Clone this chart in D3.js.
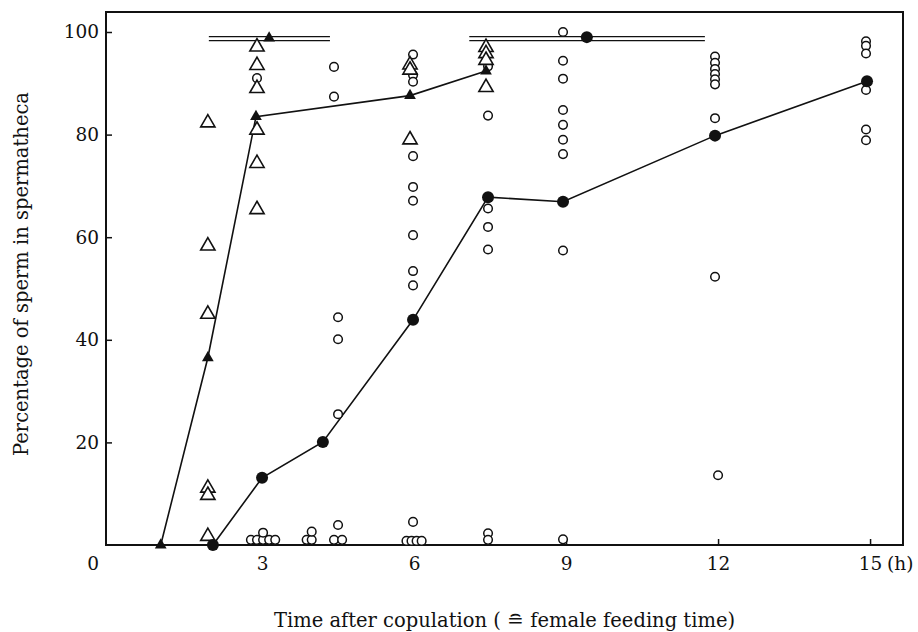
<!DOCTYPE html>
<html>
<head>
<meta charset="utf-8">
<script src="https://cdn.jsdelivr.net/npm/d3@7"></script>
<style>
  body { margin: 0; background: #fff; }
  text { font-family: "DejaVu Serif", "Liberation Serif", serif; fill: #111; }
</style>
</head>
<body>
<svg id="chart" width="918" height="632"></svg>
<script>
// ---- data (hours after copulation, % of sperm in spermatheca) ----
const xTicks = [0, 3, 6, 9, 12, 15];
const yTicks = [0, 20, 40, 60, 80, 100];

// filled triangles, joined by a line
const meanTriangles = [[1.0, 0], [1.93, 36.5], [2.88, 83.5], [5.92, 87.6], [7.42, 92.4]];
// filled circles, joined by a line
const meanCircles = [[2.03, 0], [3.0, 13.1], [4.2, 20.1], [5.98, 43.9], [7.46, 67.8], [8.94, 66.9], [11.94, 79.8], [14.94, 90.4]];
// separate filled markers on the double bars
const barTriangle = [[3.14, 98.8]];
const barCircle = [[9.41, 99.0]];
// double horizontal bars (start h, end h)
const bars = [[1.95, 4.34], [7.09, 11.74]];
const barLevel = 98.7;

// open triangles, individual values
const openTriangles = [
  { t: 1.93, v: [82.3, 58.3, 45.0, 11.1, 9.7, 1.7] },
  { t: 2.9, v: [97.1, 93.5, 89.0, 80.9, 74.4, 65.4] },
  { t: 5.92, v: [93.6, 92.6, 79.0] },
  { t: 7.42, v: [97.0, 95.8, 94.5, 89.2] }
];

// open circles, individual values
const openCircles = [
  { t: 2.9, v: [91.0] },
  { t: 2.78, v: [1.0] }, { t: 2.9, v: [1.0] }, { t: 3.02, v: [1.0, 2.4] }, { t: 3.14, v: [1.0] }, { t: 3.26, v: [1.0] },
  { t: 3.88, v: [1.0] }, { t: 3.98, v: [1.0, 2.6] },
  { t: 4.42, v: [93.2, 87.4, 1.0] }, { t: 4.5, v: [44.4, 40.1, 25.5, 3.9] }, { t: 4.58, v: [1.0] },
  { t: 5.98, v: [95.6, 91.6, 90.3, 75.8, 69.8, 67.1, 60.4, 53.4, 50.6, 4.5] },
  { t: 5.85, v: [0.8] }, { t: 5.95, v: [0.8] }, { t: 6.05, v: [0.8] }, { t: 6.15, v: [0.8] },
  { t: 7.46, v: [93.3, 83.7, 65.6, 62.0, 57.6, 2.3, 1.0] },
  { t: 8.94, v: [100.0, 94.4, 90.9, 84.8, 81.9, 79.0, 76.2, 57.4, 1.1] },
  { t: 11.94, v: [95.2, 94.0, 92.8, 91.8, 90.8, 89.8, 83.2, 52.3] },
  { t: 12.0, v: [13.6] },
  { t: 14.92, v: [98.2, 97.3, 95.8, 88.7, 81.0, 78.9] }
];

// ---- layout ----
const svg = d3.select("#chart");
const plotLeft = 106, plotRight = 903, plotTop = 12, plotBottom = 545;
const tickFont = "18.5px", titleFont = "19.5px";

const x = d3.scaleLinear().domain([-0.08, 15.65]).range([plotLeft, plotRight]);
const y = d3.scaleLinear().domain([0, 100]).range([plotBottom, 32]);

const g = svg.append("g");

// frame
g.append("rect")
  .attr("x", plotLeft).attr("y", plotTop)
  .attr("width", plotRight - plotLeft).attr("height", plotBottom - plotTop)
  .attr("fill", "none").attr("stroke", "#111").attr("stroke-width", 2);

// axes (inward ticks)
const xAxis = g.append("g")
  .attr("transform", `translate(0,${plotBottom})`)
  .call(d3.axisBottom(x).tickValues(xTicks.filter(d => d > 0)).tickSize(-6).tickPadding(12).tickFormat(d3.format("d")));
xAxis.select(".domain").remove();
xAxis.selectAll("line").attr("stroke", "#111").attr("stroke-width", 1.5);
xAxis.selectAll("text").style("font-size", tickFont).attr("fill", "#111");

g.append("text")
  .attr("x", x(15) + 17).attr("y", plotBottom + 12)
  .attr("dy", "0.71em")
  .style("font-size", tickFont)
  .text("(h)");

const yAxis = g.append("g")
  .attr("transform", `translate(${plotLeft},0)`)
  .call(d3.axisLeft(y).tickValues(yTicks.filter(d => d > 0)).tickSize(-6).tickPadding(7).tickFormat(d3.format("d")));
yAxis.select(".domain").remove();
yAxis.selectAll("line").attr("stroke", "#111").attr("stroke-width", 1.5);
yAxis.selectAll("text").style("font-size", tickFont).attr("fill", "#111");

// shared zero at the corner
g.append("text")
  .attr("x", plotLeft - 7).attr("y", plotBottom + 12)
  .attr("dy", "0.71em")
  .attr("text-anchor", "end")
  .style("font-size", tickFont)
  .text(xTicks[0]);

// axis titles
g.append("text")
  .attr("transform", `translate(28,274) rotate(-90)`)
  .attr("text-anchor", "middle")
  .style("font-size", titleFont)
  .text("Percentage of sperm in spermatheca");

g.append("text")
  .attr("x", (plotLeft + plotRight) / 2).attr("y", 627)
  .attr("text-anchor", "middle")
  .style("font-size", titleFont)
  .text("Time after copulation ( \u2258 female feeding time)");

// double bars
bars.forEach(b => {
  [-2, 2].forEach(off => {
    g.append("line")
      .attr("x1", x(b[0])).attr("x2", x(b[1]))
      .attr("y1", y(barLevel) + off).attr("y2", y(barLevel) + off)
      .attr("stroke", "#111").attr("stroke-width", 1.3);
  });
});

// mean lines
const line = d3.line().x(d => x(d[0])).y(d => y(d[1]));
g.append("path").datum(meanTriangles).attr("d", line)
  .attr("fill", "none").attr("stroke", "#111").attr("stroke-width", 1.6);
g.append("path").datum(meanCircles).attr("d", line)
  .attr("fill", "none").attr("stroke", "#111").attr("stroke-width", 1.6);

// open circles
const circPts = openCircles.flatMap(gr => gr.v.map(v => [gr.t, v]));
g.selectAll(".oc").data(circPts).enter().append("circle")
  .attr("class", "oc")
  .attr("cx", d => x(d[0])).attr("cy", d => y(d[1]))
  .attr("r", 4.3)
  .attr("fill", "#fff").attr("stroke", "#111").attr("stroke-width", 1.5);

// open triangles
const triPts = openTriangles.flatMap(gr => gr.v.map(v => [gr.t, v]));
const triOpen = d3.symbol().type(d3.symbolTriangle).size(88);
g.selectAll(".ot").data(triPts).enter().append("path")
  .attr("class", "ot")
  .attr("transform", d => `translate(${x(d[0])},${y(d[1])})`)
  .attr("d", triOpen)
  .attr("fill", "#fff").attr("stroke", "#111").attr("stroke-width", 1.6);

// filled triangles
const triFilled = d3.symbol().type(d3.symbolTriangle).size(60);
g.selectAll(".ft").data(meanTriangles.concat(barTriangle)).enter().append("path")
  .attr("class", "ft")
  .attr("transform", d => `translate(${x(d[0])},${y(d[1])})`)
  .attr("d", triFilled)
  .attr("fill", "#111");

// filled circles
g.selectAll(".fc").data(meanCircles.concat(barCircle)).enter().append("circle")
  .attr("class", "fc")
  .attr("cx", d => x(d[0])).attr("cy", d => y(d[1]))
  .attr("r", 6)
  .attr("fill", "#111");
</script>
</body>
</html>
